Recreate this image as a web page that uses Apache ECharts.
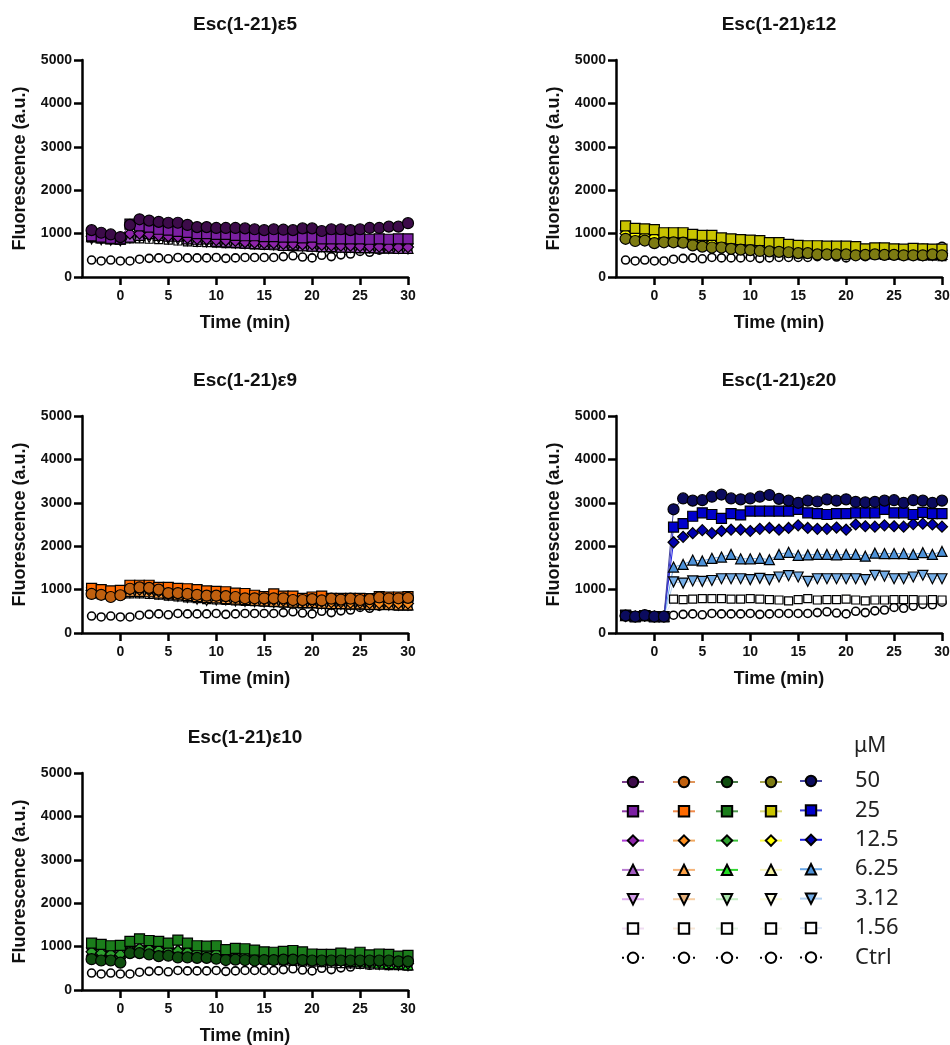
<!DOCTYPE html>
<html><head><meta charset="utf-8">
<script src="https://cdn.jsdelivr.net/npm/echarts@6/dist/echarts.min.js"></script>
<style>html,body{margin:0;padding:0;background:#fff}#chart{width:950px;height:1045px}</style>
</head><body><div id="chart"></div>
<script>
// ---------- DATA ----------
const timeMin = [-3,-2,-1,0,1,2,3,4,5,6,7,8,9,10,11,12,13,14,15,16,17,18,19,20,21,22,23,24,25,26,27,28,29,30];
const concLabels = ['50','25','12.5','6.25','3.12','1.56','Ctrl'];
const xTickValues = [0,5,10,15,20,25,30];
const yTickValues = [0,1000,2000,3000,4000,5000];

const ctrl = [390,370,390,370,370,410,430,440,420,450,440,440,440,450,430,440,450,450,450,450,470,490,460,440,500,470,510,530,590,570,620,660,650,710];

// Esc(1-21)ε5
const e5_50 = [1080,1020,980,920,1200,1330,1300,1270,1250,1250,1200,1150,1150,1130,1130,1130,1120,1100,1080,1100,1090,1080,1120,1120,1060,1100,1100,1080,1100,1130,1130,1160,1160,1240];
const e5_25 = [950,920,890,880,1220,1180,1150,1100,1080,1050,1030,1000,1000,980,980,960,950,950,930,930,920,920,900,920,880,880,880,880,880,870,880,870,880,880];
const e5_12 = [940,900,880,860,1000,1000,980,960,940,930,900,880,870,850,840,830,800,790,780,780,760,760,750,750,740,730,720,720,710,700,700,690,690,690];
const e5_6  = [930,900,880,870,920,960,1000,960,940,940,880,870,880,820,810,800,780,770,760,760,730,740,720,710,700,700,690,690,680,680,670,670,660,660];
const e5_3  = [880,860,850,840,900,920,910,900,880,860,840,820,810,800,790,780,770,760,750,740,730,720,710,700,700,690,690,680,680,670,670,660,660,650];
const e5_1  = [900,880,860,850,880,880,870,860,850,830,810,800,790,780,770,760,750,740,730,720,710,700,700,690,680,670,670,660,650,650,640,640,640,640];

// Esc(1-21)ε12
const e12_50 = [880,830,840,780,800,800,790,730,700,680,680,650,630,620,600,590,580,570,550,550,520,520,520,520,500,510,520,510,510,500,500,500,520,500];
const e12_25 = [1180,1120,1110,1090,1020,1020,1020,980,960,960,900,880,860,850,840,790,790,750,730,720,720,710,710,710,700,650,670,670,650,640,660,650,640,640];
const e12_12 = [1000,970,950,920,880,860,850,820,800,780,760,740,720,710,690,670,660,640,630,620,610,600,590,590,580,570,570,560,560,550,550,550,540,540];
const e12_6  = [980,950,930,900,860,840,830,800,780,760,740,720,700,690,670,650,640,620,610,600,590,580,570,570,560,550,550,540,540,530,530,530,520,520];
const e12_3  = [960,930,910,880,840,820,810,780,760,740,720,700,680,670,650,630,620,600,590,580,570,560,550,550,540,530,530,520,520,510,510,500,500,500];
const e12_1  = [940,910,890,860,820,800,790,760,740,720,700,680,660,650,630,610,600,580,570,560,550,540,530,530,520,510,510,500,500,490,490,480,480,470];

// Esc(1-21)ε9
const e9_50 = [900,880,830,870,1020,1050,1040,1000,920,920,900,880,860,860,850,830,800,800,800,800,800,760,760,780,750,790,770,790,760,780,820,800,800,810];
const e9_25 = [1030,1000,970,980,1100,1100,1100,1050,1050,1030,1020,1000,970,960,950,920,910,870,840,900,850,850,800,830,850,800,800,800,800,790,840,830,830,840];
const e9_12 = [980,950,930,940,1000,1000,990,960,940,920,900,880,860,850,830,810,800,780,770,760,750,740,730,730,720,710,710,700,700,690,690,690,680,680];
const e9_6  = [950,930,910,920,960,960,950,920,900,880,860,840,820,810,790,780,770,750,740,730,720,710,700,700,690,680,680,670,670,660,660,660,650,650];
const e9_3  = [920,900,880,900,930,930,920,900,870,850,820,780,750,760,760,740,730,720,710,700,690,680,680,670,670,660,660,650,650,650,640,640,640,640];
const e9_1  = [900,880,860,880,900,900,890,870,850,830,810,790,770,760,750,740,730,720,710,700,690,680,670,670,660,650,650,640,640,630,630,630,620,620];

// Esc(1-21)ε20
const e20_50 = [400,380,410,380,380,2850,3100,3050,3060,3140,3190,3100,3080,3100,3140,3180,3090,3050,3000,3050,3030,3080,3050,3080,3020,3010,3020,3050,3060,3000,3060,3050,3000,3050];
const e20_25 = [410,370,400,370,370,2440,2520,2690,2770,2730,2640,2750,2720,2810,2810,2810,2810,2810,2850,2770,2750,2730,2750,2750,2770,2770,2770,2850,2770,2770,2730,2780,2750,2750];
const e20_12 = [390,380,400,380,380,2090,2215,2300,2370,2300,2350,2380,2380,2350,2400,2420,2380,2420,2480,2420,2400,2400,2430,2380,2500,2460,2450,2480,2460,2450,2510,2520,2500,2450];
const e20_6  = [400,380,400,380,380,1520,1580,1680,1660,1720,1750,1810,1710,1710,1720,1690,1810,1860,1790,1800,1810,1810,1800,1810,1810,1770,1840,1830,1830,1830,1810,1850,1810,1880];
const e20_3  = [400,380,400,380,380,1180,1150,1200,1190,1210,1250,1250,1250,1230,1260,1230,1290,1320,1290,1190,1250,1250,1250,1250,1250,1230,1330,1310,1250,1250,1290,1330,1250,1250];
const e20_1  = [400,380,400,380,380,780,770,780,790,790,790,780,780,790,780,770,760,740,770,790,760,770,770,780,760,740,760,760,770,770,770,760,770,760];

// Esc(1-21)ε10
const e10_50 = [710,680,680,630,850,850,820,780,790,750,750,740,740,720,690,700,690,680,690,690,700,700,690,680,680,680,680,680,680,680,680,680,660,660];
const e10_25 = [1080,1050,1020,1030,1120,1180,1140,1120,1080,1150,1080,1020,1010,1020,930,960,950,920,880,870,890,910,880,830,820,820,850,830,870,810,830,820,780,800];
const e10_12 = [880,850,830,820,920,960,940,920,900,900,880,860,850,840,820,800,790,780,760,750,740,730,720,710,700,690,680,670,660,650,640,630,620,610];
const e10_6  = [900,870,850,840,940,980,960,950,930,960,920,900,880,860,840,820,800,790,780,760,750,730,720,710,700,690,680,660,650,640,620,610,600,580];
const e10_3  = [850,820,810,800,880,900,890,880,860,850,840,820,800,790,770,760,740,730,720,710,700,690,680,670,660,650,640,620,610,600,590,580,570,560];
const e10_1  = [820,800,780,770,850,870,860,850,830,820,810,790,770,760,740,730,720,700,690,680,670,660,650,640,630,620,610,600,590,580,570,560,560,550];

// ---------- STYLES ----------
const FONT = '"Liberation Sans", Arial, sans-serif';
const palettes = {
  purple: {fill:['#3d0b4a','#7b1fa2','#8e24aa','#a45cc4','#d39be8','#ffffff'], line:['#7a3d8c','#8e3aa8','#b040d8','#b87ad0','#e0b0f0','#f0dcf2']},
  orange: {fill:['#c0600f','#ff6a00','#ff8f1f','#ffa347','#e6b07a','#ffffff'], line:['#e0955a','#f08a4a','#f0a860','#f5b47a','#f7cfa5','#f8e6d6']},
  green:  {fill:['#0f4d0f','#1b7d1b','#2ea12e','#22dd22','#a8e4a8','#ffffff'], line:['#4a7d4a','#4f9a4f','#3cc43c','#33d633','#c3efc3','#e2f2e2']},
  olive:  {fill:['#7d7b12','#c9c400','#ffff00','#f2f0a0','#fbfbe0','#ffffff'], line:['#a8a650','#dad87a','#ffff50','#f8f6c4','#fbfbd8','#f4f4ec']},
  blue:   {fill:['#0b0b5e','#0000cc','#0000b0','#4d92d9','#74aee8','#ffffff'], line:['#4545a0','#3535d5','#2020e0','#6aa8e8','#b3d2f2','#e2eaf8']}
};
const symbols = ['circle','rect','diamond','triangle','path://M0,0L10,0L5,9Z','rect'];
const symbolSizes = [11,10,11,10,10,8];

const panels = [
  {title:'Esc(1-21)ε5',  left:82,  top:60,  pal:'purple', vals:[e5_50,e5_25,e5_12,e5_6,e5_3,e5_1]},
  {title:'Esc(1-21)ε12', left:616, top:60,  pal:'olive',  vals:[e12_50,e12_25,e12_12,e12_6,e12_3,e12_1]},
  {title:'Esc(1-21)ε9',  left:82,  top:416, pal:'orange', vals:[e9_50,e9_25,e9_12,e9_6,e9_3,e9_1]},
  {title:'Esc(1-21)ε20', left:616, top:416, pal:'blue',   vals:[e20_50,e20_25,e20_12,e20_6,e20_3,e20_1]},
  {title:'Esc(1-21)ε10', left:82,  top:773, pal:'green',  vals:[e10_50,e10_25,e10_12,e10_6,e10_3,e10_1]}
];
const GW = 326, GH = 217;
const legendPanelOrder = [0,2,4,1,3]; // ε5, ε9, ε10, ε12, ε20
const legendLefts = [621,672,715,759,799];

const grids=[], xAxes=[], yAxes=[], series=[], graphics=[];
const nameToLabel = {};
panels.forEach((p,i)=>{
  grids.push({left:p.left, top:p.top, width:GW, height:GH, outerBoundsMode:'none'});
  xAxes.push({
    type:'value', gridIndex:i, min:-4, max:30,
    axisLine:{show:true, onZero:false, lineStyle:{color:'#000', width:2.5}},
    axisTick:{show:true, customValues:xTickValues, length:8, lineStyle:{color:'#000', width:2.5}},
    axisLabel:{customValues:xTickValues, color:'#111', fontWeight:'bold', fontSize:14, fontFamily:FONT, margin:12},
    splitLine:{show:false},
    name:'Time (min)', nameLocation:'middle', nameGap:37,
    nameTextStyle:{color:'#111', fontWeight:'bold', fontSize:18, fontFamily:FONT}
  });
  yAxes.push({
    type:'value', gridIndex:i, min:0, max:5000, interval:1000,
    axisLine:{show:true, onZero:false, lineStyle:{color:'#000', width:2.5}},
    axisTick:{show:true, length:8, lineStyle:{color:'#000', width:2.5}},
    axisLabel:{color:'#111', fontWeight:'bold', fontSize:14, fontFamily:FONT, margin:10,
      formatter: v => String(v)},
    splitLine:{show:false},
    name:'Fluorescence (a.u.)', nameLocation:'middle', nameGap:53, nameRotate:90,
    nameTextStyle:{color:'#111', fontWeight:'bold', fontSize:18, fontFamily:FONT}
  });
  graphics.push({type:'text', x:p.left+GW/2, y:p.top-35,
    style:{text:p.title, align:'center', verticalAlign:'middle', font:'bold 19px ' + FONT, fill:'#111'}});

  const pal = palettes[p.pal];
  const ctrlName = p.title + ' Ctrl';
  nameToLabel[ctrlName] = 'Ctrl';
  series.push({
    type:'line', name:ctrlName, xAxisIndex:i, yAxisIndex:i,
    data: timeMin.map((t,k)=>[t, ctrl[k]]),
    symbol:'circle', symbolSize:8,
    itemStyle:{color:'#ffffff', borderColor:'#000', borderWidth:1.6},
    lineStyle:{color:'#000', width:1, type:[2,3]},
    emphasis:{disabled:true}, animation:false
  });
  for (let c = 5; c >= 0; c--) {
    const nm = p.title + ' ' + concLabels[c];
    nameToLabel[nm] = concLabels[c];
    const v = p.vals[c];
    series.push({
      type:'line', name:nm, xAxisIndex:i, yAxisIndex:i,
      data: timeMin.map((t,k)=>[t, v[k]]),
      symbol:symbols[c], symbolSize:symbolSizes[c],
      itemStyle:{color:pal.fill[c], borderColor:'#000', borderWidth:1.2},
      lineStyle:{color:pal.line[c], width:1},
      emphasis:{disabled:true}, animation:false
    });
  }
});

const legends = legendPanelOrder.map((pi, col)=>{
  const p = panels[pi];
  const names = concLabels.map(l => p.title + ' ' + l);
  const last = col === 4;
  return {
    orient:'vertical', left:legendLefts[col], top: last ? 770 : 775.5, height: 300, padding:0,
    itemWidth:22, itemHeight:13, itemGap: last ? 7.4 : 16.6,
    selectedMode:false, data:names,
    textStyle: last
      ? {fontSize:22, color:'#222', fontFamily:'"Noto Sans", sans-serif', padding:[0,0,0,28]}
      : {fontSize:10, color:'#222'},
    formatter: last ? (n => nameToLabel[n]) : (() => '')
  };
});

graphics.push({type:'text', x:854, y:746,
  style:{text:'μM', align:'left', verticalAlign:'middle', font:'21px "Noto Sans", sans-serif', fill:'#222'}});

const chart = echarts.init(document.getElementById('chart'), null, {renderer:'canvas'});
chart.setOption({
  backgroundColor:'#ffffff',
  animation:false,
  grid:grids, xAxis:xAxes, yAxis:yAxes,
  legend:legends, series:series, graphic:graphics
});
</script></body></html>
